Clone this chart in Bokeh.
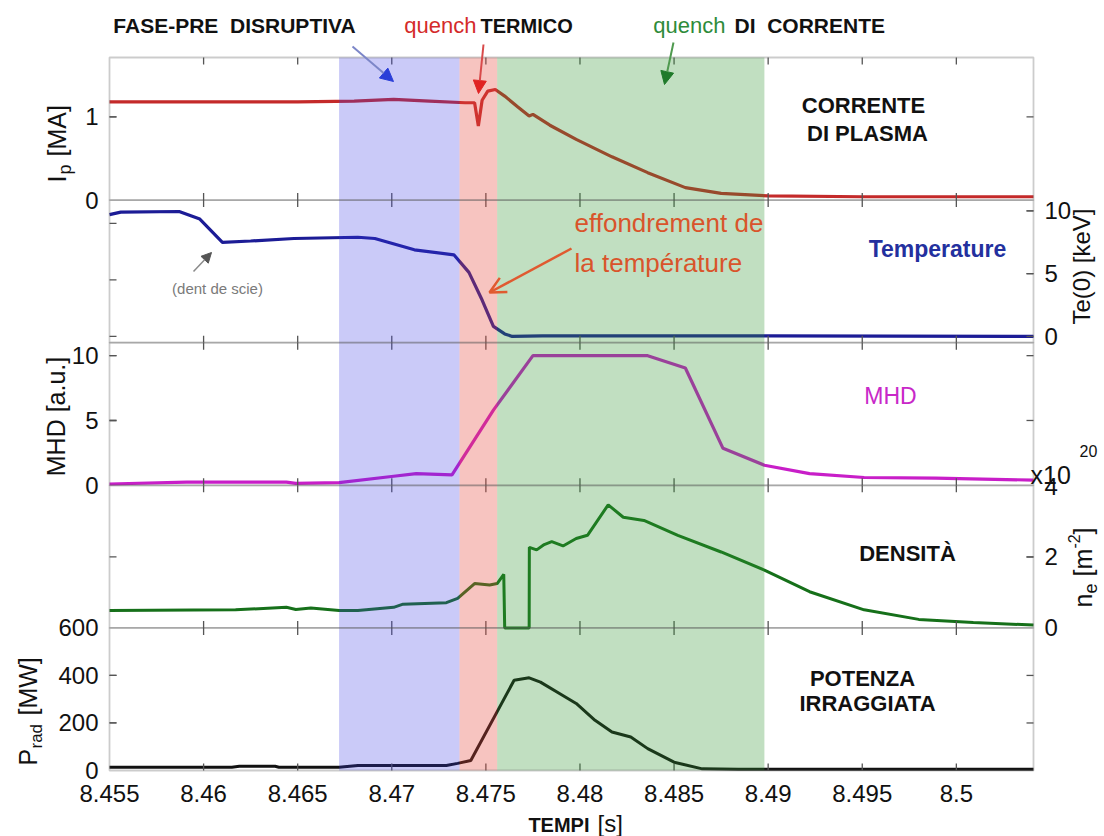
import numpy as np
from bokeh.plotting import figure
from bokeh.models import (Range1d, LinearAxis, FixedTicker, BoxAnnotation,
                          Label, Arrow, NormalHead, OpenHead)
from bokeh.embed import file_html
from bokeh.resources import INLINE

# ---------------- data ----------------
x_ticks = [8.455, 8.46, 8.465, 8.47, 8.475, 8.48, 8.485, 8.49, 8.495, 8.5]
x_tick_labels = ["8.455", "8.46", "8.465", "8.47", "8.475", "8.48", "8.485", "8.49", "8.495", "8.5"]

phase_start = [8.4672, 8.4736, 8.4756]
phase_end = [8.4736, 8.4756, 8.4898]

ip_t = [8.455, 8.460, 8.465, 8.4680, 8.4701, 8.4720, 8.4739, 8.4744, 8.4746, 8.4748,
        8.4751, 8.4755, 8.4760, 8.4767, 8.4773, 8.4775, 8.4784, 8.4798, 8.4817, 8.4836,
        8.4856, 8.4875, 8.4900, 8.4950, 8.5041]
ip_v = [1.18, 1.18, 1.18, 1.19, 1.21, 1.19, 1.17, 1.17, 0.89, 1.20,
        1.31, 1.33, 1.25, 1.12, 1.01, 1.03, 0.90, 0.73, 0.52, 0.33,
        0.15, 0.08, 0.05, 0.04, 0.04]

te_t = [8.455, 8.4556, 8.4587, 8.4598, 8.4610, 8.4625, 8.4648, 8.4682, 8.4691, 8.4712,
        8.4733, 8.4741, 8.4748, 8.4754, 8.4760, 8.4764, 8.4780, 8.4900, 8.5041]
te_v = [9.7, 9.9, 9.95, 9.35, 7.5, 7.6, 7.8, 7.9, 7.8, 6.9,
        6.5, 5.1, 2.9, 0.8, 0.2, 0.0, 0.05, 0.05, 0.0]

mhd_t = [8.455, 8.4591, 8.4644, 8.4649, 8.4672, 8.4701, 8.4713, 8.4732, 8.4754, 8.4775,
         8.4836, 8.4856, 8.4876, 8.4898, 8.4922, 8.4951, 8.4989, 8.5041]
mhd_v = [0.1, 0.25, 0.25, 0.15, 0.2, 0.7, 0.9, 0.8, 5.8, 10.0,
         10.0, 9.05, 2.85, 1.55, 0.9, 0.6, 0.55, 0.4]

ne_t = [8.455, 8.4617, 8.4644, 8.4649, 8.4657, 8.4672, 8.4682, 8.4701, 8.4706, 8.4729,
        8.4735, 8.4744, 8.4752, 8.4756, 8.47595, 8.4760, 8.4773, 8.47731, 8.4777, 8.4781,
        8.4785, 8.4791, 8.4798, 8.4804, 8.4815, 8.4823, 8.4834, 8.4852, 8.4875, 8.4898,
        8.4922, 8.4951, 8.4980, 8.5009, 8.5041]
ne_v = [0.49, 0.51, 0.58, 0.52, 0.56, 0.49, 0.49, 0.58, 0.67, 0.71,
        0.83, 1.25, 1.21, 1.25, 1.51, 0.0, 0.0, 2.27, 2.20, 2.35,
        2.43, 2.31, 2.52, 2.61, 3.47, 3.12, 3.03, 2.61, 2.14, 1.63,
        1.02, 0.51, 0.24, 0.15, 0.08]

prad_t = [8.455, 8.4615, 8.4619, 8.4638, 8.4640, 8.4672, 8.4682, 8.4729, 8.4735, 8.4742,
          8.4765, 8.4773, 8.4779, 8.4790, 8.4798, 8.4808, 8.4817, 8.4827, 8.4836, 8.4850,
          8.4865, 8.4884, 8.4950, 8.5041]
prad_v = [14, 14, 18, 18, 14, 14, 21, 21, 30, 42,
          380, 390, 372, 320, 282, 211, 162, 141, 92, 35,
          7, 5, 5, 5]

# axis limits and ticks of each panel
panel_order = ["prad", "ne", "mhd", "te", "ip"]          # bottom -> top
panel_limits = {"prad": (0, 600), "ne": (0, 4.02), "mhd": (0, 11.0),
                "te": (-0.5, 10.86), "ip": (0, 1.714)}
left_labeled = {"ip": ([0, 1], ["0", "1"]),
                "mhd": ([0, 5, 10], ["0", "5", "10"]),
                "prad": ([0, 200, 400, 600], ["0", "200", "400", "600"])}
left_plain = {"ip": [1], "te": [0, 4.5, 9.0], "mhd": [5, 10], "ne": [2],
              "prad": [200, 400]}
right_labeled = {"te": ([0, 5, 10], ["0", "5", "10"]),
                 "ne": ([0, 2, 4], ["0", "2", "4"])}
right_plain = {"ip": [1], "te": [5, 10], "mhd": [5, 10], "ne": [2],
               "prad": [200, 400]}

# ---------------- layout (page pixels of the plot box) ----------------
W, H = 1104, 836
BOX_L, BOX_R, BOX_T, BOX_B = 109, 1033, 57, 770
T0, T1 = 8.455, 8.5041
BAND = 0.2
FONT = "Liberation Sans"
AXC = "#555555"
TICK = 7


def ax(X):  # page pixel -> time
    return T0 + (X - BOX_L) * (T1 - T0) / (BOX_R - BOX_L)


def ay(Y):  # page pixel -> box fraction
    return (BOX_B - Y) / (BOX_B - BOX_T)


def pval(name, f):
    k = panel_order.index(name)
    lo, hi = panel_limits[name]
    return lo + (f - k * BAND) / BAND * (hi - lo)


def frac(name, v):
    k = panel_order.index(name)
    lo, hi = panel_limits[name]
    return round(k * BAND + BAND * (v - lo) / (hi - lo), 6)


p = figure(width=W, height=H,
           x_range=Range1d(ax(0), ax(W)), y_range=Range1d(ay(H), ay(0)),
           output_backend="svg", toolbar_location=None,
           x_axis_location=None, y_axis_location=None,
           min_border=0)
p.grid.visible = False
p.outline_line_color = None
p.background_fill_color = "white"
p.border_fill_color = "white"
p.extra_y_ranges = {n: Range1d(pval(n, ay(H)), pval(n, ay(0))) for n in panel_order}


def label_axis(a, standoff):
    a.axis_line_color = None
    a.major_tick_line_color = None
    a.minor_tick_line_color = None
    a.major_label_text_font = FONT
    a.major_label_text_color = "#111111"
    a.major_label_text_font_size = "24px"
    a.major_label_standoff = standoff


xb = LinearAxis(fixed_location=0.0, ticker=FixedTicker(ticks=x_ticks),
                major_label_overrides=dict(zip(x_ticks, x_tick_labels)))
label_axis(xb, 8)
p.add_layout(xb, "below")


def side_axis(spec, loc, side):
    pos, labs = [], []
    for n in panel_order:
        if n in spec:
            vals, ls = spec[n]
            for v, l in zip(vals, ls):
                pos.append(frac(n, v))
                labs.append(l)
    a = LinearAxis(fixed_location=loc, ticker=FixedTicker(ticks=pos),
                   major_label_overrides=dict(zip(pos, labs)))
    label_axis(a, 5)
    p.add_layout(a, side)


side_axis(left_labeled, T0, "left")
side_axis(right_labeled, T1, "right")

# ---------------- series ----------------
p.line(ip_t, ip_v, y_range_name="ip", line_color="#c42a2a", line_width=3.2)
p.line(te_t, te_v, y_range_name="te", line_color="#1c1c96", line_width=3.2)
p.line(mhd_t, mhd_v, y_range_name="mhd", line_color="#c81ec8", line_width=3.2)
p.line(ne_t, ne_v, y_range_name="ne", line_color="#16701a", line_width=3.0)
p.line(prad_t, prad_v, y_range_name="prad", line_color="#111111", line_width=3.0)


# ---------------- tick marks (inward) ----------------
def ticks(xs, ys, angle):
    p.ray(x=xs, y=ys, length=TICK, angle=angle, length_units="screen",
          line_color=AXC, line_width=1.3)


bounds = [BAND * k for k in range(1, len(panel_order))]
inner_x = x_ticks[1:]
ticks(inner_x, [0.0] * len(inner_x), np.pi / 2)
ticks(inner_x, [1.0] * len(inner_x), -np.pi / 2)
for b in bounds:
    ticks(inner_x, [b] * len(inner_x), np.pi / 2)
    ticks(inner_x, [b] * len(inner_x), -np.pi / 2)

lpos = [frac(n, v) for n in panel_order if n in left_labeled for v in left_labeled[n][0]]
lpos += [frac(n, v) for n in panel_order if n in left_plain for v in left_plain[n]]
rpos = [frac(n, v) for n in panel_order if n in right_labeled for v in right_labeled[n][0]]
rpos += [frac(n, v) for n in panel_order if n in right_plain for v in right_plain[n]]
lpos = [y for y in lpos if 0.001 < y < 0.999 and all(abs(y - b) > 0.001 for b in bounds)]
rpos = [y for y in rpos if 0.001 < y < 0.999 and all(abs(y - b) > 0.001 for b in bounds)]
ticks([T0] * len(lpos), lpos, 0.0)
ticks([T1] * len(rpos), rpos, np.pi)

# phase bands (overlay, tinting the curves)
phase_colors = ["#3c3ce6", "#e6463c", "#329632"]
phase_alpha = [0.27, 0.32, 0.30]
for s, e, c, a in zip(phase_start, phase_end, phase_colors, phase_alpha):
    p.add_layout(BoxAnnotation(left=s, right=e, bottom=0, top=1, fill_color=c,
                               fill_alpha=a, line_color=None))

# panel boxes
for k in range(len(panel_order)):
    p.add_layout(BoxAnnotation(left=T0, right=T1, bottom=k * BAND, top=(k + 1) * BAND,
                               fill_alpha=0, line_color=AXC, line_width=1.8))


# ---------------- annotations ----------------
def lab(text, X, Y, size, color="#111111", bold=False, align="center", angle=0.0):
    p.add_layout(Label(x=ax(X), y=ay(Y), text=text, text_font=FONT,
                       text_font_size=f"{size}px", text_color=color,
                       text_font_style="bold" if bold else "normal",
                       text_align=align, text_baseline="middle", angle=angle))


def arrow(X0, Y0, X1, Y1, color, head, width=2.0):
    p.add_layout(Arrow(end=head, x_start=ax(X0), y_start=ay(Y0), x_end=ax(X1),
                       y_end=ay(Y1), line_color=color, line_width=width))


NB = "\u00a0"
# top phase titles
lab("FASE-PRE" + NB + " DISRUPTIVA", 234, 25, 21, bold=True)
lab("quench", 476, 25, 22, color="#d42a2a", align="right")
lab("TERMICO", 480, 25, 20, bold=True, align="left")
lab("quench", 725, 25, 22, color="#2e8b3a", align="right")
lab("DI" + NB + " CORRENTE", 734, 25, 21, bold=True, align="left")
arrow(352, 46, 393, 81, "#7c86c8", NormalHead(size=13, fill_color="#2b3fd8", line_color="#2b3fd8"), 2)
arrow(483, 44, 478, 93, "#d84a4a", NormalHead(size=13, fill_color="#e02323", line_color="#e02323"), 2)
arrow(673, 42, 664, 84, "#4f9a4f", NormalHead(size=13, fill_color="#1f7a2a", line_color="#1f7a2a"), 2)

# panel titles
lab("CORRENTE", 863, 105, 22, bold=True)
lab("DI PLASMA", 867, 133, 22, bold=True)
lab("Temperature", 937, 248, 23, color="#23309e", bold=True)
lab("effondrement de", 574, 222, 26, color="#d9542b", align="left")
lab("la température", 574, 262, 26, color="#d9542b", align="left")
arrow(571, 248, 489, 292, "#e05a30", OpenHead(size=16, line_color="#e05a30", line_width=2.5), 2.5)
lab("(dent de scie)", 217, 288, 15, color="#7a7a7a")
arrow(193, 271, 211, 252, "#8a8a8a", NormalHead(size=10, fill_color="#555555", line_color="#555555"), 1.5)
lab("MHD", 890, 395, 23, color="#c828c8")
lab("DENSITÀ", 907, 553, 22, bold=True)
lab("POTENZA", 862, 678, 22, bold=True)
lab("IRRAGGIATA", 867, 703, 22, bold=True)
lab("x10", 1030, 474, 25, align="left")
lab("20", 1079, 450, 16, align="left")

# axis titles (composite, rotated)
UP = np.pi / 2
lab("I", 56, 182, 25, align="left", angle=UP)
lab("p", 64, 174, 18, align="left", angle=UP)
lab("[MA]", 56, 156, 25, align="left", angle=UP)

lab("MHD [a.u.]", 55, 416, 25, angle=UP)

lab("P", 27, 765, 25, align="left", angle=UP)
lab("rad", 36, 748, 17, align="left", angle=UP)
lab("[MW]", 27, 715, 25, align="left", angle=UP)

lab("Te(0) [keV]", 1081, 266, 24, angle=UP)

lab("n", 1082, 607, 25, align="left", angle=UP)
lab("e", 1090, 593, 18, align="left", angle=UP)
lab("[m", 1082, 576, 25, align="left", angle=UP)
lab("-2", 1073, 548, 16, align="left", angle=UP)
lab("]", 1082, 534, 25, align="left", angle=UP)

lab("TEMPI", 589, 824, 20, bold=True, align="right")
lab("[s]", 597, 823, 24, align="left")

open("out.html", "w").write(file_html(p, INLINE))
